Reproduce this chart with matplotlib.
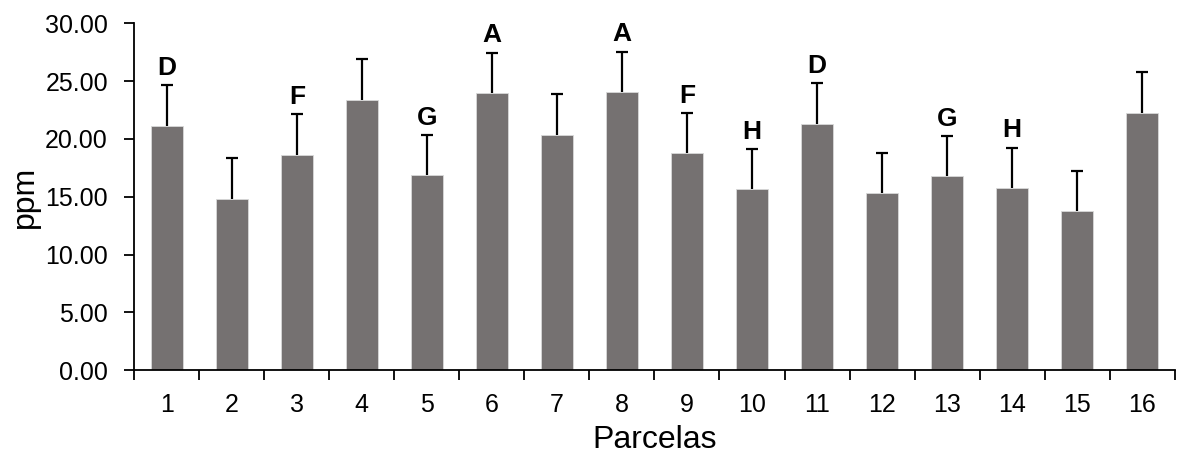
import matplotlib
matplotlib.use("Agg")
import matplotlib.pyplot as plt
import numpy as np

# ================= DATA =================
parcelas = [str(i) for i in range(1, 17)]
ppm_mean = [21.15, 14.84, 18.65, 23.37, 16.89, 23.95, 20.37, 24.06,
            18.76, 15.68, 21.27, 15.30, 16.77, 15.76, 13.75, 22.25]
ppm_err = [3.52, 3.55, 3.51, 3.52, 3.46, 3.51, 3.49, 3.49,
           3.46, 3.46, 3.54, 3.46, 3.49, 3.49, 3.51, 3.57]
letters = ['D', '', 'F', '', 'G', 'A', '', 'A',
           'F', 'H', 'D', '', 'G', 'H', '', '']
yticks = [0, 5, 10, 15, 20, 25, 30]
# ========================================

BAR_COLOR = '#757171'

plt.rcParams['font.family'] = ['Liberation Sans', 'DejaVu Sans']

fig = plt.figure(figsize=(11.77, 4.58), dpi=100)
ax = fig.add_axes([0.1141, 0.1915, 0.8839, 0.7576])

x = np.arange(len(parcelas))
tops = np.array(ppm_mean) + np.array(ppm_err)
ax.bar(x, ppm_mean, width=0.5, color=BAR_COLOR, edgecolor='#d9d9d9',
       linewidth=0.6, zorder=2)
# upper-only error bars (no cap at the bar top)
ax.vlines(x, ppm_mean, tops, color='black', linewidth=1.6, zorder=3)
ax.plot(x, tops, linestyle='none', marker='_', markersize=8.5,
        markeredgewidth=1.6, color='black', zorder=3)

for xi, t, lab in zip(x, tops, letters):
    if lab:
        ax.annotate(lab, (xi, t), xytext=(0, 7.5), textcoords='offset points',
                    ha='center', va='baseline', fontsize=19, fontweight='bold')

ax.set_xlim(-0.5, len(x) - 0.5)
ax.set_ylim(0, 30)
ax.set_yticks(yticks)
ax.set_yticklabels([f"{v:.2f}" for v in yticks])
ax.set_xticks(x)
ax.set_xticklabels(parcelas)
ax.set_xticks(np.arange(-0.5, len(x)), minor=True)

ax.tick_params(axis='x', which='major', length=0, pad=16, labelsize=18)
ax.tick_params(axis='x', which='minor', length=7, width=1.3, direction='out')
ax.tick_params(axis='y', which='major', length=7, width=1.3, pad=12, labelsize=18)

for side in ['top', 'right']:
    ax.spines[side].set_visible(False)
ax.spines['left'].set_linewidth(1.3)
ax.spines['bottom'].set_linewidth(1.3)

ax.set_ylabel('ppm', fontsize=23, labelpad=4)
ax.set_xlabel('Parcelas', fontsize=23, labelpad=6)

fig.savefig('out.png', dpi=100)
